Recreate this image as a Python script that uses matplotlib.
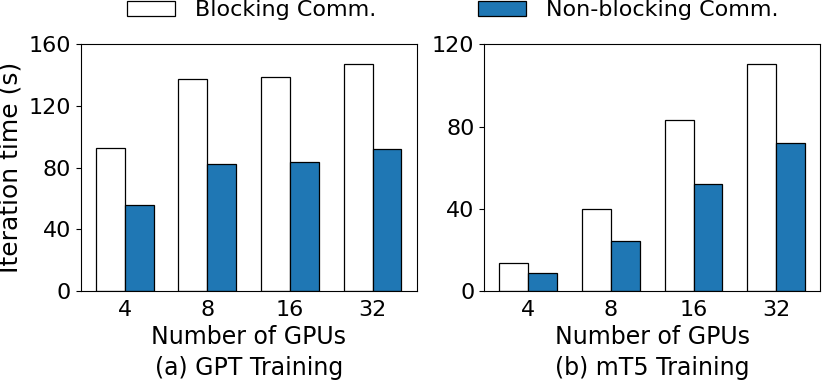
import matplotlib
matplotlib.use("Agg")
import matplotlib.pyplot as plt
import numpy as np

categories = ["4", "8", "16", "32"]
gpt_blocking = [92.4, 137.4, 139.0, 147.2]
gpt_nonblocking = [55.6, 82.3, 83.3, 92.0]
mt5_blocking = [13.3, 39.6, 83.1, 110.3]
mt5_nonblocking = [8.6, 24.4, 51.8, 71.8]
series_labels = ["Blocking Comm.", "Non-blocking Comm."]
subtitles = ["(a) GPT Training", "(b) mT5 Training"]

fig = plt.figure(figsize=(8.22, 3.83), dpi=100)
ax1 = fig.add_axes([0.098, 0.241, 0.409, 0.643])
ax2 = fig.add_axes([0.589, 0.241, 0.409, 0.643])

x = np.arange(len(categories))
w = 0.35
blue = "#1f77b4"
handles = None
for ax, b, nb, ymax, ticks, sub in [
    (ax1, gpt_blocking, gpt_nonblocking, 160, [0, 40, 80, 120, 160], subtitles[0]),
    (ax2, mt5_blocking, mt5_nonblocking, 120, [0, 40, 80, 120], subtitles[1]),
]:
    h1 = ax.bar(x - w / 2, b, w, color="white", edgecolor="black", linewidth=0.9, label=series_labels[0])
    h2 = ax.bar(x + w / 2, nb, w, color=blue, edgecolor="black", linewidth=0.9, label=series_labels[1])
    handles = [h1, h2]
    ax.set_ylim(0, ymax)
    ax.set_yticks(ticks)
    ax.set_xticks(x)
    ax.set_xticklabels(categories)
    ax.tick_params(axis="both", labelsize=16)
    ax.tick_params(axis="x", length=0, pad=7)
    ax.set_xlabel("Number of GPUs", fontsize=17, labelpad=3)
    pos = ax.get_position()
    fig.text(pos.x0 + pos.width / 2, 0.039, sub, ha="center", va="center", fontsize=17)

ax1.set_ylabel("Iteration time (s)", fontsize=18)

fig.legend(handles, series_labels, loc="center", bbox_to_anchor=(0.551, 0.973), ncol=2,
           frameon=False, fontsize=16, columnspacing=4.55, handlelength=2.16,
           handleheight=0.7, handletextpad=0.9)

fig.savefig("out.png", dpi=100)
